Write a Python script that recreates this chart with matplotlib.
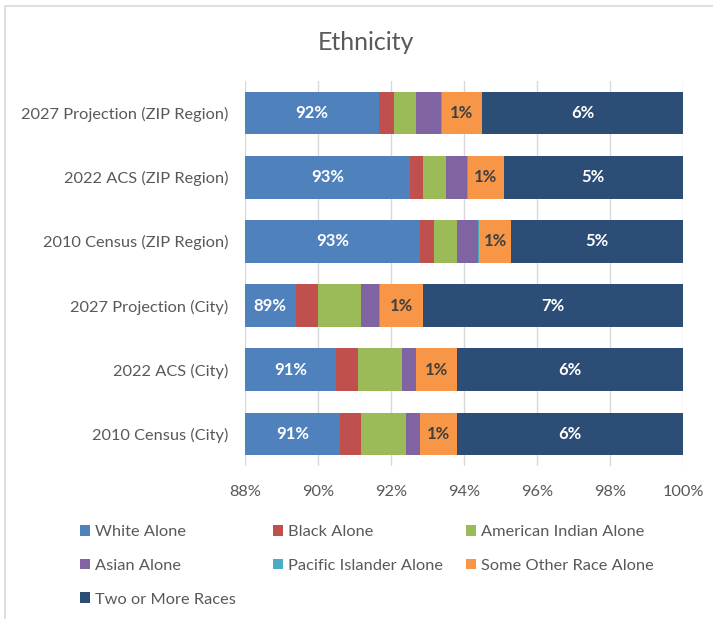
import matplotlib
matplotlib.use("Agg")
import matplotlib.pyplot as plt
from matplotlib.patches import Rectangle, Patch
import numpy as np

plt.rcParams['font.family'] = ['Lato', 'DejaVu Sans']

categories = ["2010 Census (City)", "2022 ACS (City)", "2027 Projection (City)",
              "2010 Census (ZIP Region)", "2022 ACS (ZIP Region)", "2027 Projection (ZIP Region)"]
series_names = ["White Alone", "Black Alone", "American Indian Alone", "Asian Alone",
                "Pacific Islander Alone", "Some Other Race Alone", "Two or More Races"]
white = [90.59, 90.50, 89.39, 92.79, 92.51, 91.67]
black = [0.59, 0.59, 0.60, 0.39, 0.37, 0.41]
amind = [1.22, 1.20, 1.20, 0.62, 0.62, 0.60]
asian = [0.39, 0.39, 0.49, 0.59, 0.59, 0.70]
pacific = [0.01, 0.01, 0.01, 0.01, 0.01, 0.01]
other = [1.00, 1.11, 1.20, 0.90, 0.99, 1.10]
two_more = [6.20, 6.20, 7.11, 4.70, 4.91, 5.51]
xticks = [88, 90, 92, 94, 96, 98, 100]

colors = ["#4F81BD", "#C0504D", "#9BBB59", "#8064A2", "#4BACC6", "#F79646", "#2C4D75"]
label_colors = {0: "white", 5: "#404040", 6: "white"}
TXT = '#595959'

W, H = 713, 619
fig = plt.figure(figsize=(W / 100, H / 100), dpi=100)
ax = fig.add_axes([245 / W, (H - 466) / H, 438 / W, 385 / H])

data = [white, black, amind, asian, pacific, other, two_more]
y = np.arange(len(categories))
left = np.zeros(len(categories))
xmin, xmax = 88, 100
handles = []
for i, (name, vals, c) in enumerate(zip(series_names, data, colors)):
    vals = np.array(vals)
    ax.barh(y, vals, left=left, height=0.667, color=c, edgecolor='none', zorder=2)
    handles.append(Patch(facecolor=c, edgecolor='none', label=name))
    if i in label_colors:
        for j in range(len(categories)):
            a = max(left[j], xmin)
            b = min(left[j] + vals[j], xmax)
            pct = int(np.floor(vals[j] + 0.5))
            ax.text((a + b) / 2, y[j], f"{pct}%", ha='center', va='center',
                    color=label_colors[i], fontsize=12, fontweight='bold', zorder=3)
    left = left + vals

ax.set_xlim(xmin, xmax)
ax.set_ylim(-0.5, len(categories) - 0.5)
ax.set_xticks(xticks)
ax.set_xticklabels([f"{t}%" for t in xticks])
ax.set_yticks(y)
ax.set_yticklabels(categories)
ax.tick_params(axis='both', length=0, colors=TXT, labelsize=11.8)
ax.tick_params(axis='x', pad=14)
ax.tick_params(axis='y', pad=12)
ax.grid(axis='x', color='#D9D9D9', linewidth=1, zorder=0)
for s in ax.spines.values():
    s.set_visible(False)

fig.text(366 / W, 1 - 43 / H, "Ethnicity", ha='center', va='center', fontsize=18, color=TXT)

# legend: three columns, row-major order as in the reference
columns = [[0, 3, 6], [1, 4], [2, 5]]
col_x = [80, 273, 466]
for cols, cx in zip(columns, col_x):
    fig.legend([handles[k] for k in cols], [series_names[k] for k in cols],
               loc='upper left', bbox_to_anchor=(cx / W, 1 - 525 / H),
               frameon=False, fontsize=11.8, handlelength=0.62, handleheight=0.62,
               handletextpad=0.3, labelspacing=1.2, borderpad=0, borderaxespad=0,
               labelcolor=TXT)

fig.patches.append(Rectangle((5 / W, -0.1), 1.0, 1 - 6 / H + 0.1, transform=fig.transFigure,
                             fill=False, edgecolor='#D9D9D9', linewidth=1.2))

fig.savefig("out.png", dpi=100, facecolor='white')
